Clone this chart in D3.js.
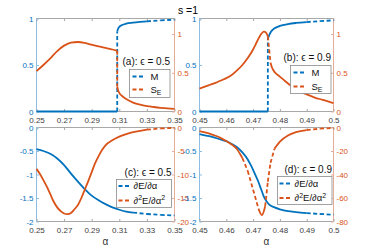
<!DOCTYPE html>
<html>
<head>
<meta charset="utf-8">
<script src="https://cdn.jsdelivr.net/npm/d3@7"></script>
<style>
  body{margin:0;background:#fff;}
  svg{display:block;font-family:"Liberation Sans",Arial,sans-serif;}
</style>
</head>
<body>
<div id="chartHolder"></div>
<script>
// ---- data ----
// (a) eps = 0.5 : order parameter M and entanglement S_E
const alphaMa = [0.25,0.255,0.26,0.265,0.27,0.275,0.28,0.285,0.29,0.295,0.30,0.305,0.3085,0.3085,0.309,0.31,0.312,0.315,0.32,0.325,0.33,0.34,0.35]
const magA    = [0,0,0,0,0,0,0,0,0,0,0,0,0,0.86,0.885,0.91,0.93,0.945,0.955,0.963,0.97,0.98,0.988]
const alphaSa = [0.25,0.255,0.26,0.265,0.27,0.275,0.28,0.285,0.29,0.295,0.30,0.305,0.3085,0.3085,0.309,0.31,0.312,0.315,0.32,0.325,0.33,0.335,0.34,0.345,0.35]
const entA    = [0.52,0.60,0.685,0.78,0.85,0.89,0.897,0.885,0.862,0.84,0.822,0.80,0.785,0.32,0.28,0.24,0.20,0.16,0.115,0.088,0.07,0.058,0.048,0.04,0.034]

// (b) eps = 0.9
const alphaMb = [0.45,0.4525,0.455,0.4575,0.46,0.4625,0.465,0.4675,0.47,0.4725,0.4755,0.4755,0.476,0.4765,0.477,0.478,0.48,0.483,0.486,0.49,0.495,0.5]
const magB    = [0,0,0,0,0,0,0,0,0,0,0,0.78,0.82,0.85,0.87,0.895,0.92,0.94,0.952,0.962,0.972,0.98]
const alphaSb = [0.45,0.452,0.454,0.456,0.458,0.46,0.462,0.464,0.466,0.468,0.47,0.471,0.472,0.473,0.474,0.4748,0.4755,0.476,0.4765,0.477,0.478,0.48,0.482,0.484,0.486,0.488,0.49,0.493,0.496,0.5]
const entB    = [0.294,0.32,0.345,0.37,0.40,0.43,0.47,0.53,0.60,0.69,0.80,0.87,0.94,1.00,1.03,1.02,0.97,0.80,0.63,0.57,0.51,0.45,0.39,0.335,0.29,0.25,0.22,0.18,0.15,0.107]

// (c) eps = 0.5 : first and second derivative of E
const alphaDc  = [0.25,0.255,0.26,0.265,0.27,0.275,0.28,0.285,0.29,0.295,0.30,0.305,0.31,0.315,0.32,0.33,0.34,0.35]
const dEc      = [-0.46,-0.50,-0.56,-0.66,-0.80,-0.98,-1.15,-1.31,-1.45,-1.55,-1.63,-1.70,-1.75,-1.79,-1.81,-1.84,-1.86,-1.87]
const alphaD2c = [0.25,0.2525,0.255,0.2575,0.26,0.2625,0.265,0.2675,0.27,0.2725,0.275,0.2775,0.28,0.2825,0.285,0.2875,0.29,0.2925,0.295,0.2975,0.30,0.305,0.31,0.315,0.32,0.325,0.33,0.34,0.35]
const d2Ec     = [-8.8,-9.9,-11.2,-12.6,-14.2,-15.8,-17.0,-17.8,-18.3,-18.45,-18.2,-17.4,-16.5,-15.0,-13.2,-11.4,-9.5,-7.6,-6.1,-4.8,-3.8,-2.7,-1.95,-1.4,-1.0,-0.7,-0.45,-0.2,-0.08]

// (d) eps = 0.9
const alphaDd  = [0.45,0.452,0.454,0.456,0.458,0.46,0.462,0.464,0.466,0.468,0.469,0.47,0.471,0.472,0.473,0.474,0.475,0.476,0.478,0.48,0.483,0.486,0.49,0.495,0.5]
const dEd      = [-0.14,-0.17,-0.19,-0.22,-0.26,-0.29,-0.35,-0.42,-0.53,-0.68,-0.785,-0.90,-1.03,-1.16,-1.315,-1.47,-1.57,-1.64,-1.70,-1.74,-1.78,-1.80,-1.82,-1.84,-1.855]
const alphaD2d = [0.45,0.452,0.454,0.456,0.458,0.46,0.462,0.464,0.466,0.468,0.47,0.472,0.4733,0.4745,0.4755,0.4765,0.478,0.48,0.483,0.486,0.49,0.495,0.5]
const d2Ed     = [-3.0,-4.2,-5.5,-7.0,-9.0,-11.5,-14.5,-18.5,-26,-37,-53,-69,-74.5,-67,-46,-30,-18,-12,-6.8,-4.0,-2.2,-1.0,-0.4]

// ticks
const xTicksLeftCol  = [0.25,0.27,0.29,0.31,0.33,0.35]
const xTicksRightCol = [0.45,0.46,0.47,0.48,0.49,0.5]
const yTicksTop      = [0,0.5,1]
const yTicksBotL     = [-2,-1.5,-1,-0.5,0]
const yTicksBotRc    = [-20,-15,-10,-5,0]
const yTicksBotRd    = [-80,-60,-40,-20,0]

const tags = ["(a): ϵ = 0.5","(b): ϵ = 0.9","(c): ϵ = 0.5","(d): ϵ = 0.9"]

function GetChart(){
  const width = 370;
  const height = 248;
  const blue = "#0072BD", orange = "#D95319";
  const blueAxis = "#8dbde2", orangeAxis = "#e6ad9b", grayAxis = "#a8a8a8";

  const svg = d3.select("#chartHolder")
                .append("svg")
                .attr("width",width)
                .attr("height",height)

  // legend label pieces: [text, 0 normal | 1 super | -1 sub]
  const lblM   = [["M",0]]
  const lblS   = [["S",0],["E",-1]]
  const lblD1  = [["∂E/∂α",0]]
  const lblD2  = [["∂",0],["2",1],["E/∂α",0],["2",1]]

  const panels = [
    {x0:36.5,x1:174.5,y0:18.5,y1:111.5,xDom:[0.25,0.35],xTicks:xTicksLeftCol,
     lDom:[0,1],lTicks:yTicksTop,rDom:[0,1.2],rTicks:yTicksTop,xLabY:122.5,alpha:false,
     lx:[alphaMa,magA],rx:[alphaSa,entA],tag:tags[0],tagY:65,
     leg:{x:129.5,y:69.5,w:40.5,h:28,r1:76.5,r2:89.5,s0:3,s1:16,t:21},labels:[lblM,lblS]},
    {x0:199.5,x1:333.5,y0:18.5,y1:111.5,xDom:[0.45,0.5],xTicks:xTicksRightCol,
     lDom:[0,1],lTicks:yTicksTop,rDom:[0,1.2],rTicks:yTicksTop,xLabY:122.5,alpha:false,
     lx:[alphaMb,magB],rx:[alphaSb,entB],tag:tags[1],tagY:61,
     leg:{x:290.5,y:65.5,w:40.5,h:28,r1:72.5,r2:86.5,s0:3,s1:16,t:21},labels:[lblM,lblS]},
    {x0:36.5,x1:174.5,y0:127.5,y1:221.5,xDom:[0.25,0.35],xTicks:xTicksLeftCol,
     lDom:[-2,0],lTicks:yTicksBotL,rDom:[-20,0],rTicks:yTicksBotRc,xLabY:232.5,alpha:true,
     lx:[alphaDc,dEc],rx:[alphaD2c,d2Ec],tag:tags[2],tagY:176,
     leg:{x:116.5,y:179.5,w:55,h:28,r1:186,r2:200.5,s0:2,s1:15,t:17},labels:[lblD1,lblD2]},
    {x0:199.5,x1:333.5,y0:127.5,y1:221.5,xDom:[0.45,0.5],xTicks:xTicksRightCol,
     lDom:[-2,0],lTicks:yTicksBotL,rDom:[-80,0],rTicks:yTicksBotRd,xLabY:232.5,alpha:true,
     lx:[alphaDd,dEd],rx:[alphaD2d,d2Ed],tag:tags[3],tagY:172.5,
     leg:{x:277.5,y:176.5,w:54.5,h:28,r1:183.5,r2:198,s0:2,s1:15,t:17},labels:[lblD1,lblD2]}
  ]

  // draw a series: short segments as a smooth solid curve, long ones dashed (like MATLAB "--")
  function drawSeries(g, xs, ys, xScale, yScale, color){
    const pts = xs.map((x,i)=>[xScale(x), yScale(ys[i])])
    const runs = [], longs = []
    let run = [pts[0]]
    for(let i=1;i<pts.length;i++){
      const len = Math.hypot(pts[i][0]-pts[i-1][0], pts[i][1]-pts[i-1][1])
      if(len > 12){
        if(run.length>1) runs.push(run)
        longs.push([pts[i-1],pts[i]])
        run = [pts[i]]
      } else run.push(pts[i])
    }
    if(run.length>1) runs.push(run)
    const line = d3.line().curve(d3.curveMonotoneX)
    runs.forEach(r=>{
      g.append("path").attr("d",line(r)).attr("fill","none")
       .attr("stroke",color).attr("stroke-width",1.8).attr("stroke-linejoin","round")
    })
    longs.forEach(s=>{
      g.append("line").attr("x1",s[0][0]).attr("y1",s[0][1]).attr("x2",s[1][0]).attr("y2",s[1][1])
       .attr("stroke",color).attr("stroke-width",1.8).attr("stroke-dasharray","4,2.5")
    })
  }

  function richText(sel, parts){
    let prev = 0
    parts.forEach(p=>{
      const t = sel.append("tspan").text(p[0])
      const shift = p[1]===1 ? -3.5 : (p[1]===-1 ? 2.5 : 0)
      t.attr("dy", shift - prev)
      if(p[1]!==0) t.style("font-size","7px")
      prev = shift
    })
  }

  panels.forEach((p,pi)=>{
    const g = svg.append("g")
    const xScale = d3.scaleLinear().domain(p.xDom).range([p.x0,p.x1])
    const yL = d3.scaleLinear().domain(p.lDom).range([p.y1,p.y0])
    const yR = d3.scaleLinear().domain(p.rDom).range([p.y1,p.y0])

    // box lines
    g.append("line").attr("x1",p.x0).attr("x2",p.x1).attr("y1",p.y0).attr("y2",p.y0).attr("stroke",grayAxis)
    g.append("line").attr("x1",p.x0).attr("x2",p.x1).attr("y1",p.y1).attr("y2",p.y1).attr("stroke",grayAxis)
    g.append("line").attr("x1",p.x0).attr("x2",p.x0).attr("y1",p.y0).attr("y2",p.y1).attr("stroke",blueAxis)
    g.append("line").attr("x1",p.x1).attr("x2",p.x1).attr("y1",p.y0).attr("y2",p.y1).attr("stroke",orangeAxis)

    // x axis (bottom with labels, top ticks only)
    const xb = g.append("g").attr("transform",`translate(0,${p.y1})`)
                .call(d3.axisBottom(xScale).tickValues(p.xTicks).tickSize(-2.5).tickPadding(0).tickFormat(d=>String(d)))
    xb.select(".domain").remove()
    xb.selectAll("line").attr("stroke",grayAxis)
    xb.selectAll("text").attr("y",null).attr("dy",null)
      .attr("transform",`translate(0,${p.xLabY-p.y1})`)
      .attr("fill","#404040").style("font-size","8px").style("font-family","inherit")
    const xt = g.append("g").attr("transform",`translate(0,${p.y0})`)
                .call(d3.axisTop(xScale).tickValues(p.xTicks).tickSize(-2.5).tickFormat(""))
    xt.select(".domain").remove()
    xt.selectAll("line").attr("stroke",grayAxis)

    // left axis
    const ya = g.append("g").attr("transform",`translate(${p.x0},0)`)
                .call(d3.axisLeft(yL).tickValues(p.lTicks).tickSize(-2.5).tickPadding(3).tickFormat(d=>String(d)))
    ya.select(".domain").remove()
    ya.selectAll("line").attr("stroke",blueAxis)
    ya.selectAll("text").attr("fill",blue).style("font-size","8px").style("font-family","inherit")

    // right axis
    const yb = g.append("g").attr("transform",`translate(${p.x1},0)`)
                .call(d3.axisRight(yR).tickValues(p.rTicks).tickSize(-2.5).tickPadding(3).tickFormat(d=>String(d)))
    yb.select(".domain").remove()
    yb.selectAll("line").attr("stroke",orangeAxis)
    yb.selectAll("text").attr("fill",orange).style("font-size","8px").style("font-family","inherit")

    // curves
    drawSeries(g, p.lx[0], p.lx[1], xScale, yL, blue)
    drawSeries(g, p.rx[0], p.rx[1], xScale, yR, orange)

    // tag text
    g.append("text").attr("x",p.leg.x+p.leg.w).attr("y",p.tagY)
     .attr("text-anchor","end").style("font-size","10px").attr("fill","#111")
     .text(p.tag)

    // legend
    const lg = g.append("g")
    lg.append("rect").attr("x",p.leg.x).attr("y",p.leg.y).attr("width",p.leg.w).attr("height",p.leg.h)
      .attr("fill","#fff").attr("stroke","#8a8a8a").attr("stroke-width",0.8)
    ;[[p.leg.r1,blue],[p.leg.r2,orange]].forEach((r,k)=>{
      lg.append("line").attr("x1",p.leg.x+p.leg.s0).attr("x2",p.leg.x+p.leg.s1)
        .attr("y1",r[0]).attr("y2",r[0]).attr("stroke",r[1]).attr("stroke-width",1.8)
        .attr("stroke-dasharray","4,2.5")
      const t = lg.append("text").attr("x",p.leg.x+p.leg.t).attr("y",r[0]+3.3)
        .style("font-size","9.5px").attr("fill","#111")
      richText(t, p.labels[k])
    })

    if(p.alpha){
      g.append("text").attr("x",(p.x0+p.x1)/2).attr("y",244.5).attr("text-anchor","middle")
       .style("font-size","10px").attr("fill","#333").text("α")
    }
  })

  // title
  svg.append("text").attr("x",188).attr("y",14).attr("text-anchor","middle")
     .style("font-size","10.5px").attr("fill","#000").text("s =1")
}
GetChart()
</script>
</body>
</html>
